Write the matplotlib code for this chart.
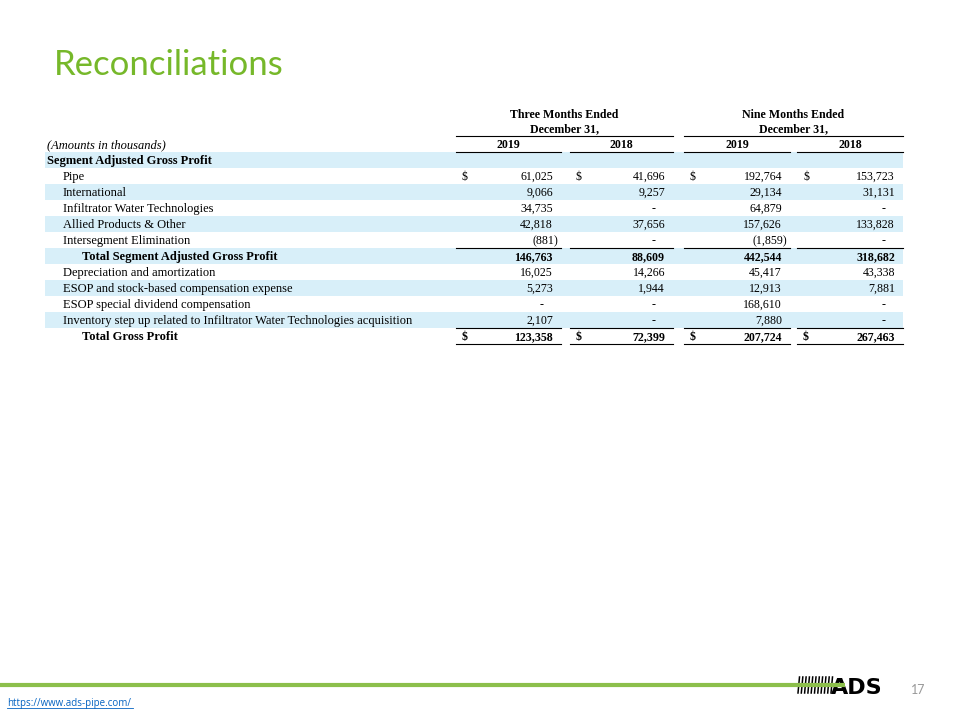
import matplotlib.pyplot as plt

# Table data (amounts in thousands); None = no value, 0 = "-"
row_labels = [
    "Segment Adjusted Gross Profit",
    "Pipe",
    "International",
    "Infiltrator Water Technologies",
    "Allied Products & Other",
    "Intersegment Elimination",
    "Total Segment Adjusted Gross Profit",
    "Depreciation and amortization",
    "ESOP and stock-based compensation expense",
    "ESOP special dividend compensation",
    "Inventory step up related to Infiltrator Water Technologies acquisition",
    "Total Gross Profit",
]
three_2019 = [None, 61025, 9066, 34735, 42818, -881, 146763, 16025, 5273, 0, 2107, 123358]
three_2018 = [None, 41696, 9257, 0, 37656, 0, 88609, 14266, 1944, 0, 0, 72399]
nine_2019 = [None, 192764, 29134, 64879, 157626, -1859, 442544, 45417, 12913, 168610, 7880, 207724]
nine_2018 = [None, 153723, 31131, 0, 133828, 0, 318682, 43338, 7881, 0, 0, 267463]
year_labels = ["2019", "2018", "2019", "2018"]
period_labels = [("Three Months Ended", "December 31,"), ("Nine Months Ended", "December 31,")]

bold_rows = [0, 6, 11]
indent = [0, 1, 1, 1, 1, 1, 2, 1, 1, 1, 1, 2]
dollar_rows = [1, 11]
underline_rows = [5, 10, 11]

columns = [three_2019, three_2018, nine_2019, nine_2018]
col_left = [456, 570, 684, 797]
col_right = [561, 673, 790, 903]

SERIF = "Liberation Serif"
FS = 8.6
FS_LAB = 9.0
shade = "#d8eff9"
green = "#76b82a"

fig = plt.figure(figsize=(9.6, 7.2), dpi=100)
ax = fig.add_axes([0, 0, 1, 1])
ax.set_xlim(0, 960)
ax.set_ylim(720, 0)
ax.axis("off")

# title
ax.text(54, 75, "Reconciliations", fontsize=25, color=green, family="Lato",
        va="baseline", ha="left")

# period headers
for k, (l1, l2) in enumerate(period_labels):
    x0, x1 = col_left[2 * k], col_right[2 * k + 1]
    xc = (x0 + x1) / 2
    ax.text(xc, 118, l1, family=SERIF, fontsize=FS, weight="bold", ha="center", va="baseline")
    ax.text(xc, 132.5, l2, family=SERIF, fontsize=FS, weight="bold", ha="center", va="baseline")
    ax.plot([x0, x1], [136, 136], color="black", lw=0.8)

ax.text(47, 148.5, "(Amounts in thousands)", family=SERIF, fontsize=FS_LAB, style="italic",
        ha="left", va="baseline")
for j, yl in enumerate(year_labels):
    xc = (col_left[j] + col_right[j]) / 2
    ax.text(xc, 148.5, yl, family=SERIF, fontsize=FS, weight="bold", ha="center", va="baseline")
    ax.plot([col_left[j], col_right[j]], [152, 152], color="black", lw=0.8)

row_h = 16
for i, lab in enumerate(row_labels):
    yc = 160 + row_h * i
    yb = yc + 4
    if i % 2 == 0:
        ax.fill_between([45, 903], yc - 8, yc + 8, color=shade, lw=0)
    wt = "bold" if i in bold_rows else "normal"
    ax.text(47 + 16 * indent[i] + (3 if indent[i] == 2 else 0), yb, lab, family=SERIF,
            fontsize=FS_LAB, weight=wt, ha="left", va="baseline")
    for j, col in enumerate(columns):
        v = col[i]
        if v is None:
            continue
        num_r = col_right[j] - 8
        if i in dollar_rows:
            ax.text(col_left[j] + 6, yb, "$", family=SERIF, fontsize=FS, weight=wt,
                    ha="left", va="baseline")
        if v == 0:
            ax.text(num_r - 9, yb, "-", family=SERIF, fontsize=FS, weight=wt,
                    ha="right", va="baseline")
        elif v < 0:
            ax.text(num_r + 5, yb, f"({-v:,})", family=SERIF, fontsize=FS, weight=wt,
                    ha="right", va="baseline")
        else:
            ax.text(num_r, yb, f"{v:,}", family=SERIF, fontsize=FS, weight=wt,
                    ha="right", va="baseline")
    if i in underline_rows:
        for j in range(4):
            ax.plot([col_left[j], col_right[j]], [yc + 8, yc + 8], color="black", lw=0.8)

# footer
ax.plot([0, 845], [685, 685], color="#8cbf4b", lw=3, solid_capstyle="butt", zorder=3)
for s in range(11):
    x = 798 + s * 3.3
    ax.plot([x, x + 1.5], [693, 677], color="black", lw=1.1, zorder=2)
ax.text(831, 694, "ADS", family="DejaVu Sans", weight="heavy", fontsize=16,
        ha="left", va="baseline", color="black", zorder=2)
ax.text(918, 690, "17", family="Lato", fontsize=9, color="#999999", ha="center", va="center")
ax.text(7, 706, "https://www.ads-pipe.com/", family="Open Sans", fontsize=7,
        color="#0563c1", ha="left", va="baseline")
ax.plot([7, 133], [708, 708], color="#0563c1", lw=0.6)

fig.savefig("out.png", dpi=100)
